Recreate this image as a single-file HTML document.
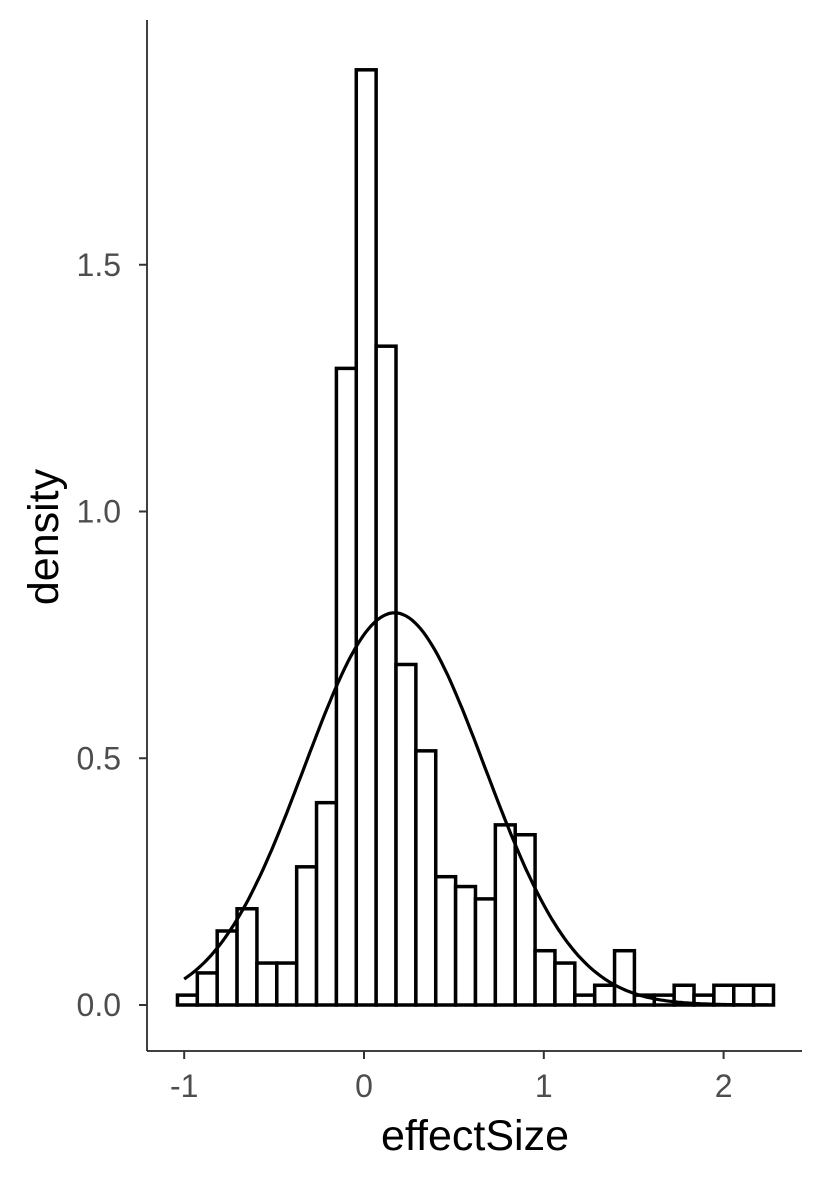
<!DOCTYPE html>
<html><head><meta charset="utf-8"><style>body{margin:0;background:#fff}svg{display:block}</style></head>
<body>
<svg width="826" height="1181" xmlns="http://www.w3.org/2000/svg" font-family="Liberation Sans, sans-serif">
<g id="bars"></g>
<path id="curve" fill="none" stroke="#000" stroke-width="3.2"/>
<line x1="147" y1="20" x2="147" y2="1051" stroke="#000" stroke-width="1.5"/>
<line x1="147" y1="1051" x2="802" y2="1051" stroke="#000" stroke-width="1.5"/>
<g id="yticks"></g>
<g id="xticks"></g>
<text x="475" y="1150" font-size="43" text-anchor="middle" fill="#000">effectSize</text>
<text transform="translate(58,537) rotate(-90)" font-size="43" text-anchor="middle" fill="#000">density</text>
</svg>
<script>
const binStart = -1.0375;
const binWidth = 0.1105;
const densities = [0.02,0.065,0.15,0.195,0.085,0.085,0.28,0.41,1.29,1.895,1.335,0.69,0.515,0.26,0.24,0.215,0.365,0.345,0.11,0.085,0.02,0.04,0.11,0.02,0.02,0.04,0.02,0.04,0.04,0.04];
const curveMean = 0.17;
const curveSd = 0.502;
const curveRange = [-1, 2.25];
const yTicks = [0, 0.5, 1.0, 1.5];
const yTickLabels = ["0.0","0.5","1.0","1.5"];
const xTicks = [-1, 0, 1, 2];
const xTickLabels = ["-1","0","1","2"];

const NS = "http://www.w3.org/2000/svg";
const xs = v => 364 + (v) * 179.8;
const ys = v => 1005 - v * 493.5;

const bars = document.getElementById('bars');
densities.forEach((d, i) => {
  const r = document.createElementNS(NS, 'rect');
  const x0 = xs(binStart + i * binWidth), x1 = xs(binStart + (i + 1) * binWidth);
  r.setAttribute('x', x0); r.setAttribute('width', x1 - x0);
  r.setAttribute('y', ys(d)); r.setAttribute('height', ys(0) - ys(d));
  r.setAttribute('fill', '#fff'); r.setAttribute('stroke', '#000'); r.setAttribute('stroke-width', '3.5');
  
  
  bars.appendChild(r);
});

let p = '';
for (let k = 0; k <= 200; k++) {
  const v = curveRange[0] + (curveRange[1] - curveRange[0]) * k / 200;
  const dens = Math.exp(-0.5 * ((v - curveMean) / curveSd) ** 2) / (curveSd * Math.sqrt(2 * Math.PI));
  p += (k ? 'L' : 'M') + xs(v).toFixed(1) + ',' + ys(dens).toFixed(1);
}
document.getElementById('curve').setAttribute('d', p);

const yt = document.getElementById('yticks');
yTicks.forEach((v, i) => {
  const l = document.createElementNS(NS, 'line');
  l.setAttribute('x1', 139); l.setAttribute('x2', 147); l.setAttribute('y1', ys(v)); l.setAttribute('y2', ys(v));
  l.setAttribute('stroke', '#333'); l.setAttribute('stroke-width', '2');
  
  
  yt.appendChild(l);
  const t = document.createElementNS(NS, 'text');
  t.setAttribute('x', 121); t.setAttribute('y', ys(v) + 11);
  t.setAttribute('text-anchor', 'end'); t.setAttribute('font-size', '32'); t.setAttribute('fill', '#4d4d4d');
  t.textContent = yTickLabels[i];
  
  
  yt.appendChild(t);
});
const xt = document.getElementById('xticks');
xTicks.forEach((v, i) => {
  const l = document.createElementNS(NS, 'line');
  l.setAttribute('x1', xs(v)); l.setAttribute('x2', xs(v)); l.setAttribute('y1', 1051); l.setAttribute('y2', 1059);
  l.setAttribute('stroke', '#333'); l.setAttribute('stroke-width', '2');
  
  
  xt.appendChild(l);
  const t = document.createElementNS(NS, 'text');
  t.setAttribute('x', xs(v)); t.setAttribute('y', 1097);
  t.setAttribute('text-anchor', 'middle'); t.setAttribute('font-size', '32'); t.setAttribute('fill', '#4d4d4d');
  t.textContent = xTickLabels[i];
  
  
  xt.appendChild(t);
});
</script>
</body></html>
